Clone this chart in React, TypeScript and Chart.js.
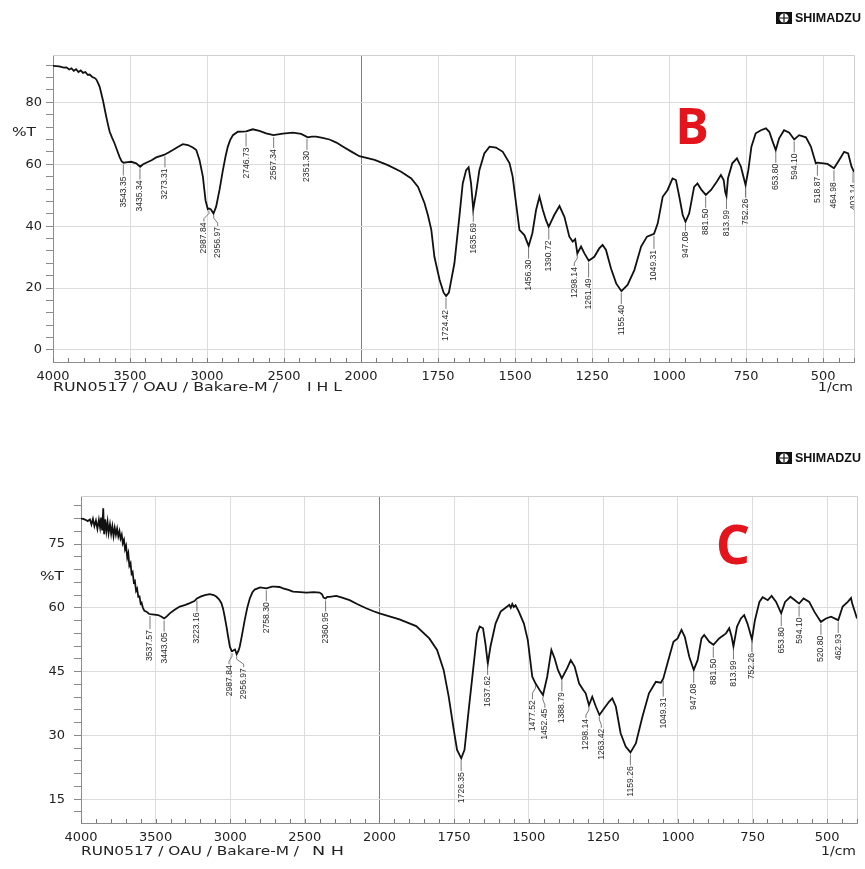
import React, { useEffect, useRef } from 'react';
import { Chart, registerables } from 'chart.js';

Chart.register(...registerables);

// ---------------- DATA ----------------
// Spectrum B (wavenumber, %T)
const wavenumbersB = [
  4000, 3960, 3930, 3913, 3895, 3880, 3865, 3850, 3835, 3820, 3805, 3790, 3775, 3762, 3745, 3730, 3719, 3708, 3697, 3686,
  3676, 3665, 3654, 3643, 3632, 3616, 3600, 3584, 3568, 3555, 3542, 3515, 3492, 3460, 3434, 3415, 3395, 3360, 3330, 3280,
  3250, 3222, 3190, 3157, 3124, 3092, 3070, 3049, 3027, 3010, 2995, 2987, 2975, 2958, 2941, 2919, 2897, 2880, 2865, 2850,
  2832, 2800, 2746, 2703, 2660, 2616, 2569, 2508, 2443, 2389, 2346, 2320, 2292, 2250, 2205, 2160, 2119, 2060, 2011,
  1956, 1913, 1870, 1837, 1815, 1794, 1783, 1772, 1762, 1745, 1732, 1724, 1715, 1697, 1681, 1670, 1659, 1651, 1643, 1636,
  1627, 1616, 1600, 1583, 1562, 1540, 1518, 1508, 1497, 1486, 1470, 1456, 1444, 1432, 1421, 1410, 1400, 1391, 1373, 1356,
  1340, 1324, 1313, 1305, 1298, 1286, 1275, 1261, 1243, 1227, 1216, 1205, 1189, 1172, 1155, 1135, 1113, 1091, 1072, 1049,
  1037, 1021, 1005, 989, 978, 967, 956, 947, 935, 919, 908, 895, 881, 864, 845, 832, 823, 818, 814, 809,
  795, 780, 767, 752, 743, 733, 719, 702, 686, 675, 664, 654, 643, 627, 610, 594, 578, 556, 540, 524,
  519, 486, 465, 448, 432, 419, 408, 400,
];
const transmittanceB = [
  91.8, 91.6, 91.2, 91.3, 90.6, 91.0, 90.2, 90.7, 89.8, 90.3, 89.5, 89.8, 88.9, 89.0, 88.2, 87.9, 87.4, 86.3, 85.0, 82.8,
  80.7, 78.0, 75.3, 72.8, 70.5, 68.5, 66.7, 64.5, 62.4, 61.0, 60.5, 60.7, 60.8, 60.3, 59.2, 60.0, 60.5, 61.3, 62.2, 63.0,
  63.8, 64.6, 65.6, 66.5, 66.2, 65.4, 64.6, 61.4, 56.0, 48.4, 45.5, 45.7, 45.4, 44.1, 46.3, 51.7, 58.1, 62.5, 65.7, 67.8,
  69.4, 70.5, 70.6, 71.3, 70.8, 70.0, 69.4, 69.9, 70.2, 69.8, 68.7, 68.9, 68.9, 68.5, 68.0, 67.0, 65.7, 64.0, 62.6,
  61.4, 59.7, 57.6, 55.4, 52.7, 47.4, 43.5, 38.8, 30.1, 22.6, 18.5, 17.4, 18.5, 28.0, 43.0, 53.8, 58.1, 59.0, 53.8, 45.4,
  50.6, 58.1, 63.5, 65.7, 65.4, 64.0, 60.3, 56.0, 47.4, 38.8, 37.1, 33.6, 37.7, 45.2, 49.5, 45.2, 42.0, 39.8, 43.6, 46.5,
  43.0, 36.6, 35.0, 35.8, 31.2, 33.4, 31.2, 28.8, 30.1, 32.8, 33.9, 32.3, 26.4, 21.5, 19.0, 21.0, 25.8, 33.4, 36.6, 37.5,
  40.9, 49.5, 51.7, 55.4, 54.9, 49.5, 43.6, 41.4, 44.1, 52.7, 53.8, 51.7, 50.1, 51.7, 54.4, 56.5, 54.9, 51.0, 49.7, 55.5,
  60.3, 61.9, 59.2, 53.3, 58.1, 65.7, 70.0, 71.0, 71.6, 70.5, 67.3, 64.6, 68.4, 71.0, 70.2, 68.0, 69.4, 68.7, 65.7, 60.3,
  60.5, 60.1, 58.7, 61.4, 64.0, 63.5, 59.2, 57.5,
];

// Spectrum C (wavenumber, %T)
const wavenumbersC = [
  4000, 3985, 3970, 3955, 3940, 3930, 3920, 3910, 3900, 3890, 3880, 3872, 3865, 3858, 3851, 3845, 3838, 3830, 3822, 3815,
  3806, 3798, 3790, 3782, 3774, 3766, 3758, 3750, 3742, 3735, 3727, 3720, 3712, 3705, 3698, 3690, 3683, 3676, 3668, 3661,
  3654, 3646, 3639, 3631, 3624, 3616, 3608, 3600, 3594, 3585, 3575, 3561, 3545, 3535, 3510, 3483, 3460, 3443, 3425, 3405,
  3370, 3338, 3300, 3271, 3240, 3223, 3195, 3170, 3137, 3110, 3092, 3075, 3059, 3048, 3037, 3025, 3014, 3002, 2990, 2985,
  2975, 2968, 2957, 2945, 2936, 2920, 2903, 2886, 2869, 2852, 2836, 2800, 2758, 2720, 2702, 2670, 2646, 2610, 2580, 2530,
  2490, 2440, 2401, 2385, 2375, 2361, 2350, 2334, 2290, 2250, 2200, 2150, 2089, 2040, 2000, 1933, 1877, 1833,
  1807, 1785, 1768, 1751, 1740, 1726, 1715, 1701, 1684, 1673, 1664, 1653, 1645, 1637, 1628, 1611, 1594, 1572, 1565, 1560,
  1555, 1550, 1544, 1533, 1516, 1503, 1488, 1477, 1460, 1452, 1438, 1424, 1413, 1402, 1389, 1371, 1359, 1346, 1331, 1317,
  1309, 1298, 1287, 1275, 1263, 1247, 1231, 1220, 1208, 1192, 1175, 1159, 1141, 1119, 1097, 1074, 1057, 1049, 1029, 1015,
  1001, 988, 977, 962, 947, 934, 921, 912, 895, 881, 862, 839, 828, 820, 814, 802, 789, 778, 767, 752,
  742, 727, 716, 699, 686, 671, 654, 641, 623, 608, 594, 579, 560, 543, 521, 504, 487, 463, 448, 431,
  420, 416, 409, 400,
];
const transmittanceC = [
  81.0, 80.9, 80.7, 80.4, 80.8, 79.6, 80.9, 79.2, 80.5, 78.6, 80.7, 78.9, 81.2, 78.2, 83.4, 77.3, 80.8, 78.0, 80.2, 77.6,
  79.6, 77.4, 79.2, 76.9, 78.8, 77.2, 78.6, 76.8, 78.0, 76.3, 77.2, 75.2, 76.0, 73.8, 74.6, 71.8, 72.8, 69.9, 70.5, 68.0,
  68.4, 66.0, 66.3, 64.0, 64.5, 62.6, 62.7, 61.0, 61.2, 60.0, 59.3, 59.1, 58.6, 58.5, 58.4, 58.3, 57.9, 57.5, 58.0, 58.7,
  59.6, 60.3, 60.7, 61.1, 61.6, 62.2, 62.7, 63.0, 63.2, 63.0, 62.6, 62.0, 61.1, 59.8, 57.9, 55.6, 53.2, 50.8, 49.8, 49.8,
  50.1, 50.2, 49.1, 49.9, 50.9, 53.8, 57.1, 60.0, 62.2, 63.6, 64.3, 64.8, 64.6, 65.0, 65.0, 64.9, 64.6, 64.2, 63.8, 63.7,
  63.6, 63.7, 63.6, 63.2, 62.4, 62.2, 62.6, 62.6, 62.8, 62.4, 61.8, 60.9, 59.9, 59.2, 58.7, 57.3, 55.7, 52.8,
  50.1, 45.4, 39.1, 31.3, 26.6, 24.6, 26.6, 36.0, 46.9, 54.0, 55.6, 55.2, 51.6, 46.9, 50.9, 56.3, 59.1, 60.3, 60.7, 60.0,
  60.9, 60.2, 60.6, 59.1, 56.3, 52.4, 43.8, 42.2, 40.3, 39.5, 43.8, 50.1, 48.1, 45.4, 43.4, 45.8, 47.7, 46.2, 42.2, 40.7,
  39.9, 37.1, 39.1, 36.8, 34.8, 36.4, 37.9, 38.7, 36.8, 30.5, 27.4, 26.0, 28.1, 34.4, 39.9, 42.6, 42.4, 43.4, 48.5, 52.0,
  52.8, 54.8, 53.2, 48.5, 45.4, 47.7, 52.8, 53.6, 52.0, 51.3, 52.8, 54.0, 55.2, 53.2, 50.9, 55.6, 57.5, 58.3, 56.3, 52.6,
  57.1, 61.4, 62.5, 61.8, 62.8, 61.4, 58.7, 61.4, 62.6, 61.8, 61.0, 62.2, 61.4, 59.1, 56.7, 57.5, 57.9, 57.1, 60.3, 61.4,
  62.3, 61.0, 59.5, 57.5,
];

// Peak labels (1/cm)
const peaksB = [
  3543.35, 3435.34, 3273.31, 2987.84, 2956.97, 2746.73, 2567.34, 2351.3, 1724.42, 1635.69, 1456.3, 1390.72, 1298.14,
  1261.49, 1155.4, 1049.31, 947.08, 881.5, 813.99, 752.26, 653.8, 594.1, 518.87, 464.98, 403.14,
];
const peaksC = [
  3537.57, 3443.05, 3223.16, 2987.84, 2956.97, 2758.3, 2360.95, 1726.35, 1637.62, 1477.52, 1452.45, 1388.79, 1298.14,
  1263.42, 1159.26, 1049.31, 947.08, 881.5, 813.99, 752.26, 653.8, 594.1, 520.8, 462.93,
];

// Axis tick labels
const xTickWavenumbers = [4000, 3500, 3000, 2500, 2000, 1750, 1500, 1250, 1000, 750, 500];
const yTickLabelsB = [0, 20, 40, 60, 80];
const yTickLabelsC = [15, 30, 45, 60, 75];

// ---------------- helpers ----------------
const toU = (wn: number) => (wn >= 2000 ? (4000 - wn) / 500 : 4 + (2000 - wn) / 250);
const fromU = (u: number) => (u <= 4 ? 4000 - 500 * u : 2000 - 250 * (u - 4));

function interp(wns: number[], ts: number[], w: number) {
  for (let i = 0; i < wns.length - 1; i++) {
    if (wns[i] >= w && w >= wns[i + 1]) {
      const f = (wns[i] - w) / (wns[i] - wns[i + 1] || 1);
      return ts[i] + f * (ts[i + 1] - ts[i]);
    }
  }
  return ts[ts.length - 1];
}

function fitText(ctx: CanvasRenderingContext2D, text: string, x: number, y: number, w: number, align: 'left' | 'right' = 'left') {
  const m = ctx.measureText(text).width;
  ctx.save();
  ctx.translate(x, y);
  ctx.scale(w / m, 1);
  ctx.textAlign = 'left';
  ctx.fillText(text, align === 'right' ? -m : 0, 0);
  ctx.restore();
}

type Adj = Record<string, { dx?: number; dy?: number }>;

interface Spec {
  wn: number[];
  t: number[];
  peaks: number[];
  adjust: Adj;
  yLabels: number[];
  yMin: number;
  yMax: number;
  yStep: number;
  yPad: number;
  canvasH: number;
  pad: { top: number; right: number; bottom: number; left: number };
  yAxisW: number;
  xAxisH: number;
  letter: string;
  letterX: number;
  letterY: number;
  letterSize: number;
  logoY: number;
  percentX: number;
  percentY: number;
  footerY: number;
  footerW: number;
  tag: string;
  tagX: number;
  tagW: number;
}

const specB: Spec = {
  wn: wavenumbersB,
  t: transmittanceB,
  peaks: peaksB,
  adjust: {
    '2987.84': { dx: -5 },
    '2956.97': { dx: 4 },
    '1298.14': { dx: -3 },
    '1261.49': { dy: 4 },
    '1049.31': { dy: 2 },
    '947.08': { dy: -4 },
    '2746.73': { dy: 2 },
  },
  yLabels: yTickLabelsB,
  yMin: -3.9,
  yMax: 95.3,
  yStep: 4,
  yPad: 4,
  canvasH: 430,
  pad: { top: 55, right: 11, bottom: 28, left: 0 },
  yAxisW: 53,
  xAxisH: 40,
  letter: 'B',
  letterX: 692,
  letterY: 130,
  letterSize: 50,
  logoY: 18,
  percentX: 12,
  percentY: 133,
  footerY: 388,
  footerW: 225,
  tag: 'I H L',
  tagX: 307,
  tagW: 35,
};

const specC: Spec = {
  wn: wavenumbersC,
  t: transmittanceC,
  peaks: peaksC,
  adjust: {
    '2987.84': { dx: -3 },
    '2956.97': { dx: 7 },
    '1477.52': { dx: -3, dy: 3 },
    '1452.45': { dx: 2 },
    '1298.14': { dx: -3 },
    '1263.42': { dx: 2 },
    '1049.31': { dy: 5 },
    '3537.57': { dy: 2 },
  },
  yLabels: yTickLabelsC,
  yMin: 9.4,
  yMax: 86.3,
  yStep: 3,
  yPad: 9,
  canvasH: 439,
  pad: { top: 66, right: 8, bottom: 6, left: 0 },
  yAxisW: 81,
  xAxisH: 40,
  letter: 'C',
  letterX: 733,
  letterY: 119,
  letterSize: 54,
  logoY: 28,
  percentX: 40,
  percentY: 147,
  footerY: 422,
  footerW: 218,
  tag: 'N H',
  tagX: 312,
  tagW: 32,
};

const LABEL_FONT = '9px "Liberation Sans Narrow", "Liberation Sans", Arial, sans-serif';
const AXIS_FONT_FAMILY = '"DejaVu Sans", "Liberation Sans", sans-serif';

function makeConfig(spec: Spec): any {
  const labelStep = spec.yLabels[1] - spec.yLabels[0];
  const decor = {
    id: 'decor',
    afterDraw(chart: any) {
      const ctx: CanvasRenderingContext2D = chart.ctx;
      const area = chart.chartArea;
      const xs = chart.scales.x;
      const ys = chart.scales.y;
      ctx.save();
      // top/right frame
      ctx.strokeStyle = '#cfcfcf';
      ctx.lineWidth = 1;
      ctx.beginPath();
      ctx.moveTo(area.left, area.top + 0.5);
      ctx.lineTo(area.right + 0.5, area.top + 0.5);
      ctx.lineTo(area.right + 0.5, area.bottom);
      ctx.stroke();
      // inward minor x ticks
      ctx.strokeStyle = '#7a7a7a';
      ctx.beginPath();
      for (let k = 0; k <= 52; k++) {
        const u = k * 0.2;
        const px = Math.round(xs.getPixelForValue(u)) + 0.5;
        ctx.moveTo(px, area.bottom);
        ctx.lineTo(px, area.bottom - 4);
      }
      ctx.stroke();

      // peak labels
      ctx.save();
      ctx.beginPath();
      ctx.rect(area.left, area.top, area.right - area.left, area.bottom - area.top);
      ctx.clip();
      ctx.font = LABEL_FONT;
      const sx = 31 / ctx.measureText('1724.42').width;
      ctx.strokeStyle = '#555';
      ctx.fillStyle = '#2a2a2a';
      ctx.lineWidth = 0.8;
      spec.peaks.forEach((p) => {
        const key = p.toFixed(2);
        const adj = spec.adjust[key] || {};
        const dx = adj.dx || 0;
        const dy = adj.dy || 0;
        const x0 = xs.getPixelForValue(toU(p));
        const y0 = ys.getPixelForValue(interp(spec.wn, spec.t, p)) + 2;
        const yEnd = y0 + 11 + dy;
        ctx.beginPath();
        if (dx) {
          ctx.moveTo(x0, y0);
          ctx.lineTo(x0, y0 + 3);
          ctx.lineTo(x0 + dx, y0 + 8);
          ctx.lineTo(x0 + dx, yEnd);
        } else {
          ctx.moveTo(x0, y0);
          ctx.lineTo(x0, yEnd);
        }
        ctx.stroke();
        ctx.save();
        ctx.translate(x0 + dx, yEnd + 1);
        ctx.rotate(-Math.PI / 2);
        ctx.scale(sx, 1);
        ctx.textAlign = 'right';
        ctx.textBaseline = 'middle';
        ctx.fillText(key, 0, 0);
        ctx.restore();
      });
      ctx.restore();

      // %T
      ctx.fillStyle = '#222';
      ctx.font = `13px ${AXIS_FONT_FAMILY}`;
      ctx.textBaseline = 'middle';
      fitText(ctx, '%T', spec.percentX, spec.percentY, 24);
      // footer
      fitText(ctx, 'RUN0517 / OAU / Bakare-M /', area.left, spec.footerY, spec.footerW);
      fitText(ctx, spec.tag, spec.tagX, spec.footerY, spec.tagW);
      fitText(ctx, '1/cm', area.right - 1, spec.footerY, 35, 'right');

      // big letter
      ctx.fillStyle = '#e3141b';
      ctx.font = `bold ${spec.letterSize}px "Open Sans", "Liberation Sans", sans-serif`;
      ctx.textAlign = 'center';
      ctx.textBaseline = 'middle';
      ctx.fillText(spec.letter, spec.letterX, spec.letterY);

      // SHIMADZU logo
      const ly = spec.logoY;
      ctx.fillStyle = '#111';
      ctx.fillRect(776, ly - 6, 16, 12);
      ctx.fillStyle = '#fff';
      ctx.beginPath();
      ctx.arc(784, ly, 4.6, 0, Math.PI * 2);
      ctx.fill();
      ctx.strokeStyle = '#111';
      ctx.lineWidth = 1.2;
      ctx.beginPath();
      ctx.moveTo(779.4, ly);
      ctx.lineTo(788.6, ly);
      ctx.moveTo(784, ly - 4.6);
      ctx.lineTo(784, ly + 4.6);
      ctx.stroke();
      ctx.fillStyle = '#111';
      ctx.font = 'bold 12px "Liberation Sans", Arial, sans-serif';
      ctx.textBaseline = 'middle';
      fitText(ctx, 'SHIMADZU', 795, ly + 0.5, 66);
      ctx.restore();
    },
  };

  return {
    type: 'line',
    data: {
      datasets: [
        {
          data: spec.wn.map((w, i) => ({ x: toU(w), y: spec.t[i] })),
          borderColor: '#111',
          borderWidth: 1.8,
          pointRadius: 0,
          fill: false,
          tension: 0,
        },
      ],
    },
    options: {
      animation: false,
      responsive: false,
      devicePixelRatio: 1,
      events: [],
      layout: { padding: spec.pad },
      plugins: { legend: { display: false }, tooltip: { enabled: false } },
      scales: {
        x: {
          type: 'linear',
          min: 0,
          max: toU(400),
          afterBuildTicks: (scale: any) => {
            scale.ticks = xTickWavenumbers.map((w) => ({ value: toU(w) }));
          },
          afterFit: (scale: any) => {
            scale.height = spec.xAxisH;
          },
          ticks: {
            autoSkip: false,
            maxRotation: 0,
            padding: 7,
            color: '#222',
            font: { family: AXIS_FONT_FAMILY, size: 13 },
            callback: (v: number) => String(Math.round(fromU(v))),
          },
          grid: {
            drawTicks: false,
            lineWidth: 1,
            color: (c: any) => (c.tick && Math.abs(c.tick.value - 4) < 1e-6 ? '#7d7d7d' : '#dcdcdc'),
          },
          border: { display: true, color: '#8c8c8c', width: 1 },
        },
        y: {
          type: 'linear',
          min: spec.yMin,
          max: spec.yMax,
          afterBuildTicks: (scale: any) => {
            const out: any[] = [];
            const start = Math.ceil(spec.yMin / spec.yStep);
            const end = Math.floor(spec.yMax / spec.yStep);
            for (let k = start; k <= end; k++) out.push({ value: k * spec.yStep });
            scale.ticks = out;
          },
          afterFit: (scale: any) => {
            scale.width = spec.yAxisW;
          },
          ticks: {
            autoSkip: false,
            padding: spec.yPad,
            color: '#222',
            font: { family: AXIS_FONT_FAMILY, size: 13 },
            callback: (v: number) => (spec.yLabels.includes(Math.round(v)) && Math.abs(v % labelStep) < 1e-6 ? String(v) : ''),
          },
          grid: {
            tickLength: 7,
            tickColor: '#8a8a8a',
            color: (c: any) =>
              c.tick && spec.yLabels.includes(Math.round(c.tick.value)) && Math.abs(c.tick.value % labelStep) < 1e-6
                ? '#dcdcdc'
                : 'rgba(0,0,0,0)',
          },
          border: { display: true, color: '#8c8c8c', width: 1 },
        },
      },
    },
    plugins: [decor],
  };
}

function Panel({ spec, top }: { spec: Spec; top: number }) {
  const ref = useRef<HTMLCanvasElement>(null);
  useEffect(() => {
    const chart = new Chart(ref.current as HTMLCanvasElement, makeConfig(spec));
    return () => chart.destroy();
  }, [spec]);
  return (
    <canvas
      ref={ref}
      width={865}
      height={spec.canvasH}
      style={{ position: 'absolute', left: 0, top, width: 865, height: spec.canvasH, display: 'block' }}
    />
  );
}

export default function App() {
  return (
    <div style={{ position: 'absolute', left: 0, top: 0, width: 865, height: 869, background: '#fff', overflow: 'hidden' }}>
      <Panel spec={specB} top={0} />
      <Panel spec={specC} top={430} />
    </div>
  );
}
